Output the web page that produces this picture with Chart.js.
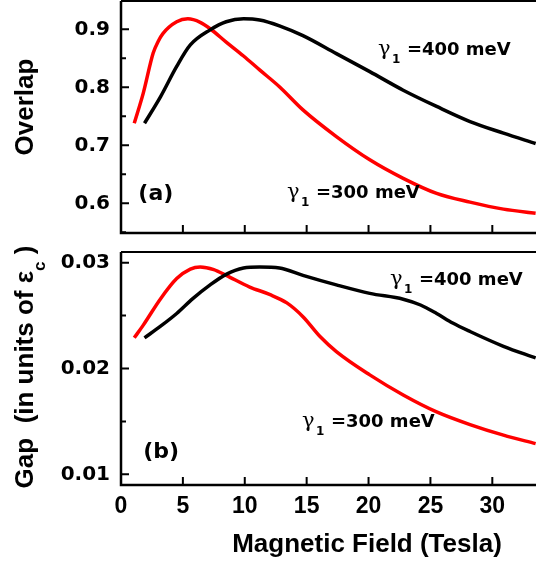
<!DOCTYPE html>
<html>
<head>
<meta charset="utf-8">
<script src="https://cdn.jsdelivr.net/npm/chart.js@4.4.1/dist/chart.umd.min.js"></script>
<style>
  html, body { margin: 0; padding: 0; background: #fff; }
  #wrap { position: relative; width: 536px; height: 564px; overflow: hidden; }
  canvas { position: absolute; left: 0; }
  #overlapChart { top: 0; }
  #gapChart { top: 245px; }
</style>
</head>
<body>
<div id="wrap">
  <canvas id="overlapChart" width="536" height="240"></canvas>
  <canvas id="gapChart" width="536" height="319"></canvas>
</div>
<script>
// values (x = magnetic field in Tesla)
const overlapField400 = [1.9, 3.2, 4.5, 5.6, 7.2, 8.5, 9.9, 11.2, 12.8, 14.7, 17.4, 20.1, 22.8, 25.5, 28.2, 30.9, 33.5];
const overlap400 = [0.738, 0.784, 0.836, 0.873, 0.899, 0.913, 0.918, 0.916, 0.906, 0.889, 0.858, 0.827, 0.795, 0.767, 0.741, 0.721, 0.703];

const overlapField300 = [1.07, 1.8, 2.6, 3.0, 3.4, 4.5, 5.4, 6.4, 7.2, 8.5, 9.9, 11.2, 12.8, 14.7, 17.4, 20.1, 22.8, 25.5, 28.2, 30.9, 33.5];
const overlap300 = [0.738, 0.790, 0.859, 0.879, 0.893, 0.913, 0.918, 0.912, 0.901, 0.878, 0.854, 0.830, 0.801, 0.761, 0.715, 0.675, 0.643, 0.617, 0.602, 0.590, 0.583];

const gapField400 = [1.9, 3.2, 4.5, 5.8, 7.2, 8.5, 9.9, 11.2, 12.8, 14.7, 17.4, 20.1, 22.8, 24.2, 25.5, 26.8, 28.2, 30.9, 33.5];
const gap400 = [0.0229, 0.0240, 0.0252, 0.0266, 0.0279, 0.0289, 0.0295, 0.0296, 0.0295, 0.0288, 0.0279, 0.0271, 0.02655, 0.0260, 0.0252, 0.0243, 0.0235, 0.0221, 0.0210];

const gapField300 = [1.07, 1.8, 3.2, 4.5, 5.6, 6.4, 7.5, 8.5, 10.4, 12.0, 13.4, 14.7, 16.1, 17.4, 20.1, 22.8, 25.5, 28.2, 30.9, 33.5];
const gap300 = [0.0229, 0.0241, 0.0266, 0.0285, 0.0294, 0.0296, 0.02935, 0.0288, 0.0277, 0.0270, 0.0262, 0.0249, 0.0230, 0.0216, 0.0194, 0.0175, 0.0159, 0.0147, 0.0137, 0.0129];

const fieldTicks = [0, 5, 10, 15, 20, 25, 30];
const fieldTickLabels = ['0', '5', '10', '15', '20', '25', '30'];
const overlapTicks = [0.6, 0.7, 0.8, 0.9];
const overlapTickLabels = ['0.6', '0.7', '0.8', '0.9'];
const gapTicks = [0.01, 0.02, 0.03];
const gapTickLabels = ['0.01', '0.02', '0.03'];

const seriesNames = ['γ1 =400 meV', 'γ1 =300 meV'];

function pts(xs, ys) {
    return xs.map((x, i) => ({ x: x, y: ys[i] }));
}

function line(label, data, color) {
    return {
        label: label,
        data: data,
        borderColor: color,
        borderWidth: 3.5,
        pointRadius: 0,
        fill: false,
        cubicInterpolationMode: 'monotone'
    };
}

// frame, inward ticks, curve labels and axis titles
const panelDecor = {
    id: 'panelDecor',
    afterDraw(chart, args, opts) {
        const ctx = chart.ctx;
        const a = chart.chartArea;
        const xs = chart.scales.x, ys = chart.scales.y;
        ctx.save();
        ctx.strokeStyle = '#000';
        ctx.fillStyle = '#000';

        ctx.lineWidth = 2;
        ctx.beginPath();
        xs.ticks.forEach(t => {
            const px = xs.getPixelForValue(t.value);
            if (px <= a.left + 2) return;
            ctx.moveTo(px, a.bottom);
            ctx.lineTo(px, a.bottom - 8);
        });
        const half = opts.minorStep;
        const minors = [ys.ticks[0].value - half].concat(ys.ticks.map(t => t.value + half));
        ys.ticks.forEach(t => {
            const py = ys.getPixelForValue(t.value);
            ctx.moveTo(a.left, py);
            ctx.lineTo(a.left + 8, py);
        });
        minors.forEach(v => {
            if (v <= ys.min || v >= ys.max) return;
            const py = ys.getPixelForValue(v);
            ctx.moveTo(a.left, py);
            ctx.lineTo(a.left + 5, py);
        });
        ctx.stroke();

        ctx.lineWidth = 2.5;
        ctx.beginPath();
        ctx.moveTo(a.left, a.top);
        ctx.lineTo(a.left, a.bottom);
        ctx.lineTo(a.right, a.bottom);
        ctx.stroke();
        ctx.lineWidth = 2;
        ctx.beginPath();
        ctx.moveTo(a.left, a.top);
        ctx.lineTo(a.right, a.top);
        ctx.stroke();

        ctx.textAlign = 'left';
        ctx.textBaseline = 'alphabetic';
        opts.curveLabels.forEach(l => {
            const px = xs.getPixelForValue(l.x), py = ys.getPixelForValue(l.y);
            ctx.font = '21px "DejaVu Serif"';
            ctx.fillText(l.text.charAt(0), px, py);
            ctx.font = 'bold 12px "DejaVu Sans"';
            ctx.fillText(l.text.charAt(1), px + 14, py + 8);
            ctx.font = 'bold 18px "DejaVu Sans"';
            ctx.fillText(l.text.slice(3), px + 29, py);
        });

        ctx.font = 'bold 22px "DejaVu Sans"';
        ctx.fillText(opts.panel.text, xs.getPixelForValue(opts.panel.x), ys.getPixelForValue(opts.panel.y));

        // rotated y title, pieces may be lowered (subscript)
        const t = opts.yTitle;
        let total = 0;
        t.pieces.forEach(p => { ctx.font = p.font; total += ctx.measureText(p.text).width; });
        ctx.translate(t.x, t.y);
        ctx.rotate(-Math.PI / 2);
        let cx = -total / 2;
        t.pieces.forEach(p => {
            ctx.font = p.font;
            ctx.fillText(p.text, cx, p.dy || 0);
            cx += ctx.measureText(p.text).width;
        });
        ctx.setTransform(1, 0, 0, 1, 0, 0);
        if (opts.xTitle) {
            ctx.scale(chart.currentDevicePixelRatio, chart.currentDevicePixelRatio);
            ctx.textAlign = 'center';
            ctx.font = 'bold 26px "Liberation Sans"';
            ctx.fillText(opts.xTitle.text, opts.xTitle.x, opts.xTitle.y);
        }
        ctx.restore();
    }
};

function makeScales(yMin, yMax, yTicks, yLabels, showXLabels, xHeight) {
    return {
        x: {
            type: 'linear',
            min: 0,
            max: 33.53,
            grid: { display: false, drawTicks: false },
            border: { display: false },
            afterBuildTicks: s => { s.ticks = fieldTicks.map(v => ({ value: v })); },
            afterFit: s => { s.height = xHeight; s.paddingLeft = 0; s.paddingRight = 0; },
            ticks: {
                display: showXLabels,
                autoSkip: false,
                maxRotation: 0,
                padding: 8,
                color: '#000',
                font: { family: 'Liberation Sans', size: 23, weight: 'bold' },
                callback: (v, i) => fieldTickLabels[i]
            }
        },
        y: {
            min: yMin,
            max: yMax,
            grid: { display: false, drawTicks: false },
            border: { display: false },
            afterBuildTicks: s => { s.ticks = yTicks.map(v => ({ value: v })); },
            afterFit: s => { s.width = 121; s.paddingTop = 0; s.paddingBottom = 0; },
            ticks: {
                autoSkip: false,
                padding: 11,
                color: '#000',
                font: { family: 'DejaVu Sans', size: 20, weight: 'bold' },
                callback: (v, i) => yLabels[i]
            }
        }
    };
}

const titleFont = 'bold 26px "Liberation Sans"';

new Chart(document.getElementById('overlapChart'), {
    type: 'line',
    data: {
        datasets: [
            line(seriesNames[0], pts(overlapField400, overlap400), '#000000'),
            line(seriesNames[1], pts(overlapField300, overlap300), '#ff0000')
        ]
    },
    options: {
        responsive: false,
        animation: false,
        layout: { padding: { top: 1, left: 0, right: 0, bottom: 0 } },
        plugins: {
            legend: { display: false },
            tooltip: { enabled: false },
            panelDecor: {
                minorStep: 0.05,
                curveLabels: [
                    { text: seriesNames[0], x: 20.76, y: 0.856 },
                    { text: seriesNames[1], x: 13.41, y: 0.609 }
                ],
                panel: { text: '(a)', x: 1.4, y: 0.606 },
                yTitle: { x: 33, y: 107, pieces: [{ text: 'Overlap', font: titleFont }] }
            }
        },
        scales: makeScales(0.5488, 0.9488, overlapTicks, overlapTickLabels, false, 7)
    },
    plugins: [panelDecor]
});

new Chart(document.getElementById('gapChart'), {
    type: 'line',
    data: {
        datasets: [
            line(seriesNames[0], pts(gapField400, gap400), '#000000'),
            line(seriesNames[1], pts(gapField300, gap300), '#ff0000')
        ]
    },
    options: {
        responsive: false,
        animation: false,
        layout: { padding: { top: 7, left: 0, right: 0, bottom: 0 } },
        plugins: {
            legend: { display: false },
            tooltip: { enabled: false },
            panelDecor: {
                minorStep: 0.005,
                curveLabels: [
                    { text: seriesNames[0], x: 21.73, y: 0.02789 },
                    { text: seriesNames[1], x: 14.62, y: 0.01447 }
                ],
                panel: { text: '(b)', x: 1.8, y: 0.01154 },
                yTitle: {
                    x: 33, y: 122,
                    pieces: [
                        { text: 'Gap  (in units of ε', font: titleFont },
                        { text: 'c', font: 'bold 17px "Liberation Sans"', dy: 12 },
                        { text: ' )', font: titleFont }
                    ]
                },
                xTitle: { text: 'Magnetic Field (Tesla)', x: 367, y: 307 }
            }
        },
        scales: makeScales(0.00899, 0.03101, gapTicks, gapTickLabels, true, 79)
    },
    plugins: [panelDecor]
});
</script>
</body>
</html>
